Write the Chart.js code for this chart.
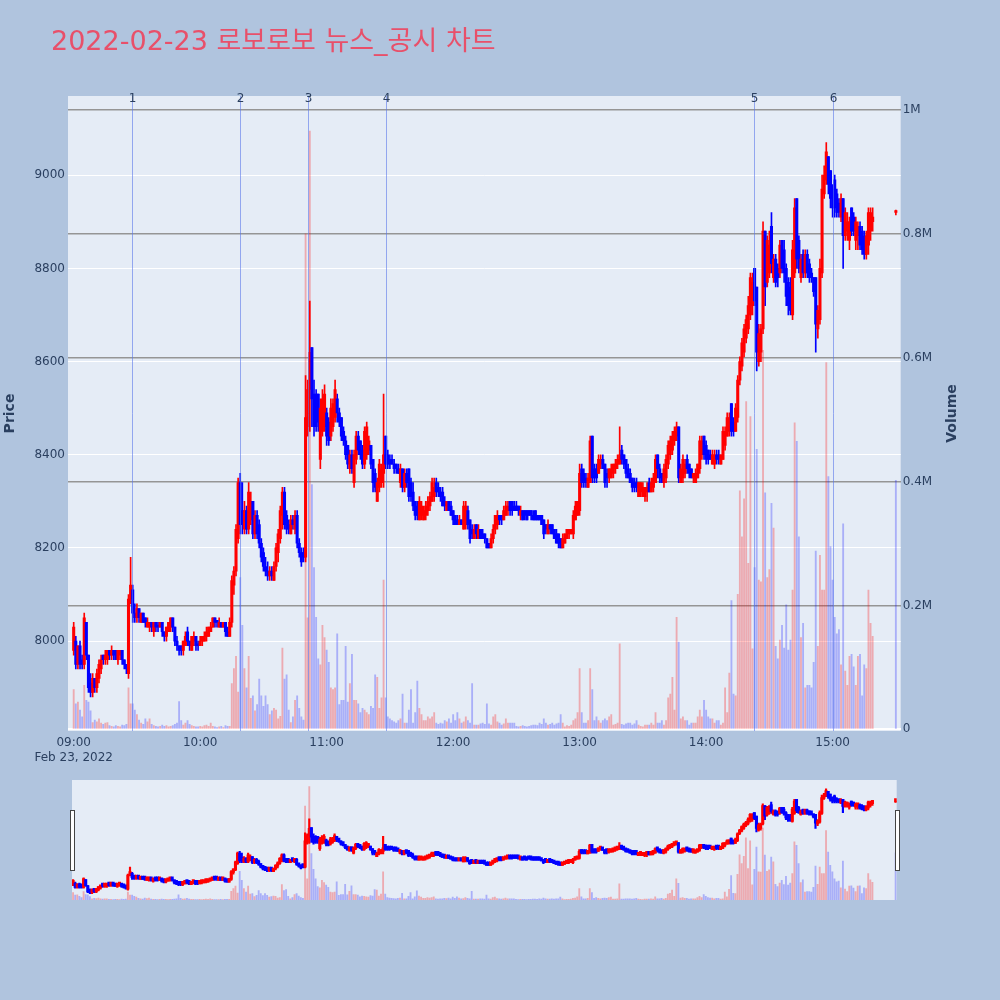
<!DOCTYPE html>
<html>
<head>
<meta charset="utf-8">
<script src="https://cdn.jsdelivr.net/npm/chart.js@4.4.1/dist/chart.umd.min.js"></script>
<style>
  html, body { margin: 0; padding: 0; background: #b0c4de; }
  #wrap { position: relative; width: 1000px; height: 1000px; }
  #main { position: absolute; left: 0; top: 0; }
  #slider { position: absolute; left: 0; top: 770px; }
</style>
</head>
<body>
<div id="wrap">
  <canvas id="main" width="1000" height="1000"></canvas>
  <canvas id="slider" width="1000" height="140"></canvas>
</div>
<script>
// 로보로보 1분봉 (09:00 ~ 15:19) + 15:30 동시호가
const chartTitle = "2022-02-23 로보로보 뉴스_공시 차트";
const closingAuctionMinute = 390;

const opens = [
  7980,8000,7950,7990,7960,7950,8040,7970,7910,7890,7920,7900,7920,7940,7970,7960,7960,7980,7970,7980,
  7980,7960,7970,7980,7960,7950,7930,8090,8110,8060,8050,8070,8040,8060,8050,8030,8030,8040,8020,8040,
  8030,8030,8040,8020,8010,8020,8030,8050,8030,8000,7990,7990,7980,7990,8020,8000,7980,8000,8010,7990,
  7990,8000,8000,8010,8010,8020,8030,8050,8040,8030,8040,8030,8040,8020,8010,8040,8120,8150,8220,8340,
  8280,8240,8280,8240,8260,8300,8230,8270,8250,8210,8190,8160,8150,8140,8150,8130,8160,8190,8220,8270,
  8320,8270,8250,8230,8260,8240,8270,8210,8190,8190,8180,8460,8540,8630,8530,8530,8530,8390,8450,8460,
  8490,8470,8440,8460,8480,8520,8490,8480,8450,8430,8420,8370,8400,8340,8390,8440,8430,8410,8380,8400,
  8410,8420,8390,8360,8300,8330,8340,8360,8440,8400,8390,8390,8380,8380,8370,8340,8370,8330,8360,8370,
  8340,8320,8300,8290,8260,8270,8260,8270,8280,8290,8300,8310,8340,8330,8320,8320,8300,8280,8300,8290,
  8280,8270,8260,8250,8260,8240,8250,8280,8260,8240,8220,8250,8220,8240,8230,8230,8220,8210,8200,8220,
  8240,8250,8270,8270,8260,8270,8280,8300,8300,8290,8290,8290,8270,8280,8280,8280,8280,8280,8270,8280,
  8270,8270,8270,8260,8250,8230,8250,8250,8240,8230,8230,8220,8200,8210,8220,8230,8230,8230,8260,8270,
  8280,8370,8360,8350,8330,8340,8440,8370,8370,8360,8380,8390,8380,8360,8350,8350,8360,8370,8380,8380,
  8410,8400,8390,8370,8360,8350,8340,8340,8310,8320,8310,8310,8320,8340,8320,8330,8340,8400,8370,8360,
  8340,8350,8380,8400,8410,8430,8440,8460,8340,8350,8360,8390,8380,8370,8350,8340,8350,8370,8400,8440,
  8420,8410,8400,8380,8380,8400,8400,8380,8390,8420,8440,8450,8510,8470,8450,8480,8560,8590,8620,8650,
  8670,8700,8720,8800,8760,8600,8620,8670,8880,8770,8790,8890,8780,8820,8800,8790,8860,8840,8800,8770,
  8760,8700,8790,8950,8860,8780,8830,8790,8830,8810,8790,8780,8780,8670,8690,8790,8960,8990,9040,9010,
  8970,8990,8960,8940,8910,8950,8870,8880,8860,8930,8910,8860,8870,8890,8880,8870,8830,8850,8880,8900,
  8920
];
const highs = [
  8040,8010,7990,8000,7970,8060,8040,7970,7930,7930,7920,7940,7960,7970,7970,7980,7980,7980,7990,7980,
  7980,7980,7980,7980,7960,7950,8100,8180,8120,8080,8080,8070,8060,8060,8050,8050,8040,8040,8040,8040,
  8040,8040,8040,8020,8030,8040,8050,8050,8030,8010,7990,7990,8000,8020,8030,8000,8010,8020,8010,8000,
  8010,8010,8020,8030,8030,8040,8050,8050,8040,8050,8040,8040,8040,8030,8050,8140,8160,8250,8350,8360,
  8340,8300,8290,8340,8320,8300,8280,8280,8260,8220,8200,8180,8170,8160,8160,8170,8210,8240,8290,8330,
  8330,8280,8260,8270,8270,8280,8280,8220,8200,8200,8570,8560,8730,8630,8560,8540,8530,8520,8540,8550,
  8500,8480,8520,8520,8560,8530,8500,8480,8460,8440,8420,8410,8410,8410,8450,8450,8430,8420,8460,8470,
  8440,8420,8390,8370,8350,8390,8380,8530,8440,8410,8400,8400,8390,8380,8380,8380,8370,8370,8370,8370,
  8350,8340,8300,8300,8310,8300,8290,8300,8310,8320,8350,8350,8350,8340,8330,8330,8310,8300,8300,8300,
  8280,8270,8270,8270,8260,8300,8300,8290,8260,8250,8250,8250,8250,8240,8240,8230,8220,8210,8230,8250,
  8270,8280,8270,8270,8290,8300,8300,8300,8300,8300,8300,8290,8290,8280,8280,8280,8280,8280,8280,8280,
  8270,8270,8270,8260,8250,8260,8250,8250,8240,8240,8230,8220,8230,8230,8240,8240,8240,8280,8300,8300,
  8380,8380,8370,8360,8360,8440,8440,8380,8380,8400,8400,8400,8380,8370,8370,8380,8380,8390,8400,8460,
  8420,8400,8390,8380,8370,8350,8350,8350,8340,8340,8340,8330,8340,8350,8350,8360,8400,8400,8380,8360,
  8380,8400,8430,8440,8450,8460,8470,8460,8380,8400,8390,8400,8380,8370,8360,8370,8380,8440,8440,8440,
  8430,8410,8410,8410,8410,8410,8410,8400,8460,8460,8490,8490,8510,8480,8510,8570,8610,8650,8680,8700,
  8740,8790,8790,8800,8760,8680,8680,8900,8880,8870,8880,8920,8830,8830,8810,8860,8860,8860,8810,8780,
  8780,8860,8950,8950,8870,8830,8840,8840,8840,8820,8800,8780,8780,8720,8820,9000,9020,9070,9040,9010,
  8980,9000,8970,8950,8960,8950,8930,8920,8910,8930,8920,8910,8900,8900,8890,8880,8880,8930,8930,8930,
  8925
];
const lows = [
  7970,7940,7940,7940,7940,7940,7960,7890,7880,7880,7890,7890,7910,7930,7950,7950,7950,7960,7960,7960,
  7960,7950,7960,7950,7940,7930,7920,8080,8040,8040,8040,8040,8040,8040,8030,8030,8020,8020,8010,8020,
  8020,8030,8010,8000,8000,8020,8020,8020,7990,7980,7970,7970,7970,7990,7990,7980,7980,7990,7980,7980,
  7990,7990,8000,8000,8010,8020,8030,8030,8030,8030,8030,8030,8010,8010,8010,8030,8100,8140,8210,8230,
  8230,8230,8230,8230,8250,8220,8220,8220,8200,8170,8150,8140,8130,8130,8130,8130,8150,8170,8210,8240,
  8240,8230,8230,8230,8240,8230,8200,8180,8160,8170,8170,8440,8450,8460,8440,8450,8450,8370,8440,8450,
  8420,8420,8430,8450,8470,8470,8460,8430,8420,8390,8370,8360,8360,8330,8380,8400,8390,8370,8370,8390,
  8400,8370,8320,8320,8300,8320,8330,8330,8370,8370,8370,8380,8360,8360,8360,8330,8320,8320,8330,8300,
  8300,8280,8260,8260,8260,8260,8260,8260,8270,8280,8300,8300,8310,8310,8300,8290,8280,8280,8280,8270,
  8250,8250,8250,8250,8250,8240,8240,8240,8210,8220,8220,8220,8220,8220,8220,8210,8200,8200,8200,8210,
  8230,8240,8250,8250,8260,8270,8270,8270,8270,8280,8280,8270,8260,8260,8260,8260,8270,8260,8260,8260,
  8260,8260,8250,8220,8230,8230,8230,8230,8220,8210,8200,8200,8200,8210,8220,8220,8230,8220,8260,8270,
  8270,8330,8330,8330,8330,8340,8340,8340,8340,8360,8370,8370,8330,8330,8340,8350,8350,8360,8370,8380,
  8380,8370,8350,8350,8340,8320,8320,8320,8310,8310,8310,8300,8300,8320,8320,8320,8340,8350,8340,8340,
  8330,8340,8370,8390,8400,8420,8430,8340,8340,8340,8350,8360,8350,8350,8340,8340,8350,8360,8390,8390,
  8380,8380,8390,8380,8370,8380,8380,8380,8390,8410,8440,8440,8440,8440,8450,8470,8550,8580,8610,8640,
  8660,8690,8700,8720,8580,8590,8600,8660,8720,8760,8780,8790,8770,8760,8760,8780,8790,8770,8720,8700,
  8700,8690,8780,8800,8790,8770,8780,8780,8780,8770,8770,8740,8620,8650,8680,8780,8950,8980,8960,8930,
  8910,8910,8910,8910,8900,8800,8860,8860,8840,8870,8870,8840,8840,8840,8830,8820,8820,8830,8860,8880,
  8915
];
const closes = [
  8030,7950,7990,7950,7950,8050,7970,7900,7890,7920,7900,7930,7950,7960,7960,7970,7980,7970,7980,7970,
  7960,7980,7980,7960,7950,7940,8090,8120,8060,8050,8070,8050,8060,8040,8040,8040,8040,8030,8040,8030,
  8030,8040,8020,8010,8030,8040,8050,8030,8000,7990,7980,7980,8000,8010,8000,7990,8010,8010,7990,7990,
  8000,8010,8010,8020,8030,8030,8050,8040,8040,8040,8030,8040,8020,8010,8040,8130,8150,8240,8340,8250,
  8250,8280,8240,8320,8300,8230,8270,8230,8210,8180,8160,8150,8140,8150,8140,8160,8200,8230,8280,8320,
  8250,8240,8240,8260,8250,8270,8210,8190,8170,8180,8480,8540,8620,8520,8460,8460,8470,8500,8520,8530,
  8440,8430,8500,8510,8540,8490,8470,8440,8430,8400,8380,8400,8370,8400,8440,8410,8400,8380,8450,8460,
  8430,8380,8340,8330,8340,8380,8370,8400,8380,8380,8380,8380,8370,8370,8360,8370,8330,8360,8340,8310,
  8310,8290,8270,8270,8300,8290,8280,8290,8300,8310,8340,8330,8320,8320,8310,8290,8290,8300,8280,8270,
  8260,8250,8250,8260,8250,8290,8290,8250,8220,8230,8240,8230,8240,8220,8220,8220,8200,8200,8220,8240,
  8270,8270,8260,8260,8280,8290,8290,8280,8280,8280,8280,8280,8280,8260,8270,8260,8270,8270,8260,8260,
  8260,8260,8250,8230,8240,8250,8240,8230,8220,8210,8210,8200,8220,8230,8240,8240,8240,8270,8290,8300,
  8360,8340,8340,8340,8350,8430,8350,8350,8350,8390,8390,8370,8340,8350,8370,8370,8380,8380,8390,8400,
  8390,8380,8360,8350,8340,8330,8330,8330,8340,8340,8330,8330,8330,8320,8340,8350,8390,8370,8350,8340,
  8370,8390,8420,8430,8440,8450,8460,8350,8370,8390,8380,8370,8360,8350,8360,8360,8380,8430,8430,8400,
  8390,8390,8390,8400,8400,8390,8390,8400,8450,8450,8480,8480,8450,8450,8500,8560,8600,8640,8670,8690,
  8720,8780,8770,8730,8620,8660,8670,8880,8760,8860,8850,8810,8820,8770,8780,8850,8800,8790,8740,8720,
  8710,8840,8930,8820,8800,8820,8790,8830,8790,8780,8780,8750,8680,8710,8800,8970,9000,9050,8980,8950,
  8930,8930,8920,8920,8950,8870,8920,8900,8900,8880,8880,8900,8890,8850,8840,8830,8870,8920,8920,8910,
  8920
];
const volumes = [
  64000,41000,44000,31000,20000,71000,47000,44000,30000,11000,15000,12000,17000,10000,8000,10000,11000,6000,5000,4000,
  6000,5000,4000,7000,6000,8000,67000,41000,41000,31000,24000,15000,10000,8000,17000,12000,17000,8000,6000,5000,
  4000,5000,7000,5000,6000,4000,5000,6000,8000,10000,45000,14000,7000,10000,14000,8000,6000,5000,4000,4000,
  5000,4000,6000,7000,5000,10000,5000,4000,3000,4000,5000,3000,6000,5000,5000,74000,98000,118000,60000,245000,
  168000,98000,67000,118000,50000,54000,30000,40000,81000,54000,37000,54000,40000,24000,30000,34000,31000,17000,21000,131000,
  81000,88000,31000,11000,20000,47000,54000,34000,20000,15000,800000,180000,966000,395000,261000,181000,114000,104000,168000,148000,
  128000,108000,67000,64000,67000,154000,40000,47000,47000,134000,44000,74000,121000,47000,47000,41000,27000,34000,31000,27000,
  24000,37000,34000,88000,84000,34000,51000,241000,51000,20000,17000,14000,12000,10000,14000,17000,57000,10000,10000,31000,
  64000,10000,27000,78000,34000,24000,14000,14000,20000,17000,20000,27000,10000,8000,10000,9000,14000,12000,17000,10000,
  24000,14000,27000,17000,10000,12000,20000,14000,10000,74000,7000,7000,7000,9000,10000,8000,41000,9000,7000,20000,
  24000,12000,10000,7000,9000,17000,10000,10000,10000,10000,5000,4000,5000,6000,5000,4000,5000,6000,7000,7000,
  6000,10000,8000,17000,10000,7000,8000,10000,7000,9000,10000,24000,10000,4000,6000,5000,7000,14000,17000,27000,
  98000,27000,10000,10000,14000,98000,64000,14000,20000,14000,10000,14000,17000,14000,20000,24000,7000,8000,10000,138000,
  8000,7000,9000,10000,10000,7000,9000,14000,7000,5000,4000,7000,7000,7000,10000,7000,27000,10000,10000,14000,
  7000,14000,51000,57000,84000,31000,181000,141000,17000,20000,14000,14000,7000,10000,10000,10000,20000,31000,20000,47000,
  31000,20000,17000,17000,10000,14000,14000,7000,10000,67000,27000,91000,208000,57000,54000,218000,385000,311000,372000,529000,
  268000,505000,130000,261000,452000,241000,238000,612000,382000,245000,258000,365000,325000,134000,114000,144000,168000,131000,201000,128000,
  144000,225000,495000,465000,311000,148000,171000,67000,71000,71000,67000,108000,288000,134000,281000,225000,225000,592000,408000,295000,
  241000,181000,154000,161000,104000,332000,94000,71000,118000,121000,101000,71000,118000,121000,54000,104000,98000,225000,171000,150000,
  402000
];

// 뉴스/공시 시점 (09:00 기준 분)
const newsMinutes = [27.5, 78.7, 111, 148, 322.6, 360];
const newsLabels = ["1", "2", "3", "4", "5", "6"];

// 축 눈금
const hourTicks = [0, 60, 120, 180, 240, 300, 360];
const hourLabels = ["09:00", "10:00", "11:00", "12:00", "13:00", "14:00", "15:00"];
const priceTicks = [8000, 8200, 8400, 8600, 8800, 9000];
const volumeTicks = [0, 200000, 400000, 600000, 800000, 1000000];

const FONT = "'DejaVu Sans', 'Noto Sans CJK KR', sans-serif";
const TXT = "#2a3f5f";
const RED = "#ff0000";
const BLUE = "#0000ff";
Chart.defaults.font.family = FONT;
Chart.defaults.color = TXT;

// 분 단위 x 값: 정규장 연속 분봉 + 마지막 동시호가
const minutes = opens.map((_, i) => (i < opens.length - 1 ? i : closingAuctionMinute));

// 양봉/음봉 판정 (시가=종가면 직전 종가와 비교)
const candleUp = closes.map((c, i) => c > opens[i] || (c === opens[i] && i > 0 && c > closes[i - 1]));
const volumeUp = closes.map((c, i) => c > opens[i]);

function buildDatasets(minBody, wickWidth) {
  return [
    {
      label: "body",
      data: minutes.map((x, i) => ({ x, y: [opens[i], closes[i]] })),
      yAxisID: "y",
      backgroundColor: candleUp.map((u) => (u ? RED : BLUE)),
      barThickness: 2.4,
      minBarLength: minBody,
      grouped: false,
      order: 1,
    },
    {
      label: "wick",
      data: minutes.map((x, i) => ({ x, y: [lows[i], highs[i]] })),
      yAxisID: "y",
      backgroundColor: candleUp.map((u) => (u ? RED : BLUE)),
      barThickness: wickWidth,
      grouped: false,
      order: 2,
    },
    {
      label: "volume",
      data: minutes.map((x, i) => ({ x, y: volumes[i] })),
      yAxisID: "yv",
      backgroundColor: volumeUp.map((u) => (u ? "rgba(255,0,0,0.28)" : "rgba(0,0,255,0.26)")),
      barThickness: 1.2,
      grouped: false,
      order: 3,
    },
  ];
}

// 플롯 배경
const plotBg = {
  id: "plotBg",
  beforeDraw(chart) {
    const { ctx, chartArea: a } = chart;
    ctx.save();
    ctx.fillStyle = "#e5ecf6";
    ctx.fillRect(a.left, a.top, a.right - a.left, a.bottom - a.top);
    ctx.restore();
  },
};

// 뉴스 세로선, 제목, 축 제목
const overlay = {
  id: "overlay",
  afterDatasetsDraw(chart) {
    const { ctx, chartArea: a, scales } = chart;
    ctx.save();
    ctx.lineWidth = 1;
    ctx.strokeStyle = "rgba(90,120,235,0.6)";
    ctx.font = "12px " + FONT;
    ctx.textAlign = "center";
    ctx.textBaseline = "alphabetic";
    newsMinutes.forEach((m, i) => {
      const px = Math.round(scales.x.getPixelForValue(m)) + 0.5;
      ctx.beginPath();
      ctx.moveTo(px, a.top);
      ctx.lineTo(px, a.bottom);
      ctx.stroke();
      ctx.fillStyle = TXT;
      ctx.fillText(newsLabels[i], px, a.top + 5.5);
    });
    ctx.restore();
  },
  afterDraw(chart) {
    const { ctx, chartArea: a } = chart;
    const midY = (a.top + a.bottom) / 2;
    ctx.save();
    ctx.fillStyle = "#e8506a";
    ctx.font = "27px " + FONT;
    ctx.textAlign = "left";
    ctx.textBaseline = "alphabetic";
    ctx.fillText(chartTitle, 51, 50);

    ctx.fillStyle = TXT;
    ctx.font = "bold 14px " + FONT;
    ctx.textAlign = "center";
    ctx.textBaseline = "middle";
    [["Price", 10], ["Volume", 952]].forEach(([t, x]) => {
      ctx.save();
      ctx.translate(x, midY);
      ctx.rotate(-Math.PI / 2);
      ctx.fillText(t, 0, 0);
      ctx.restore();
    });
    ctx.restore();
  },
};

const tickFont = { family: FONT, size: 12 };

new Chart(document.getElementById("main"), {
  type: "bar",
  data: { datasets: buildDatasets(2, 1) },
  options: {
    responsive: false,
    animation: false,
    layout: { padding: { top: 96, left: 0, right: 0, bottom: 0 } },
    plugins: { legend: { display: false }, tooltip: { enabled: false } },
    scales: {
      x: {
        type: "linear",
        min: -2.7,
        max: 392.3,
        offset: false,
        grid: { display: false },
        border: { display: false },
        afterBuildTicks: (s) => {
          s.ticks = hourTicks.map((v) => ({ value: v }));
        },
        afterFit: (s) => {
          s.height = 269;
        },
        ticks: {
          autoSkip: false,
          maxRotation: 0,
          padding: -3,
          color: TXT,
          font: tickFont,
          callback: (v) => {
            const k = hourTicks.indexOf(v);
            if (k === 0) return [hourLabels[0], "Feb 23, 2022"];
            return k >= 0 ? hourLabels[k] : "";
          },
        },
      },
      y: {
        position: "left",
        min: 7807,
        max: 9170,
        grid: { color: "#ffffff", lineWidth: 1, drawTicks: false },
        border: { display: false },
        afterBuildTicks: (s) => {
          s.ticks = priceTicks.map((v) => ({ value: v }));
        },
        afterFit: (s) => {
          s.width = 68;
        },
        ticks: { autoSkip: false, padding: 3, color: TXT, font: tickFont, callback: (v) => String(v) },
      },
      yv: {
        position: "right",
        min: -2700,
        max: 1022600,
        grid: {
          color: (c) => (c.tick && c.tick.value === 0 ? "#ffffff" : "#959595"),
          lineWidth: (c) => (c.tick && c.tick.value === 0 ? 2 : 1.5),
          drawTicks: false,
        },
        border: { display: false },
        afterBuildTicks: (s) => {
          s.ticks = volumeTicks.map((v) => ({ value: v }));
        },
        afterFit: (s) => {
          s.width = 99.3;
        },
        ticks: {
          autoSkip: false,
          padding: 2,
          color: TXT,
          font: tickFont,
          callback: (v) => (v === 0 ? "0" : v / 1000000 + "M"),
        },
      },
    },
  },
  plugins: [plotBg, overlay],
});

// 레인지 슬라이더 핸들
const sliderHandles = {
  id: "sliderHandles",
  afterDraw(chart) {
    const { ctx, chartArea: a } = chart;
    const h = 60;
    const top = Math.round((a.top + a.bottom) / 2 - h / 2) + 0.5;
    ctx.save();
    ctx.fillStyle = "#ffffff";
    ctx.strokeStyle = "#444444";
    ctx.lineWidth = 1;
    [a.left, a.right].forEach((edge) => {
      const x = Math.round(edge - 2) + 0.5;
      ctx.fillRect(x, top, 4, h);
      ctx.strokeRect(x, top, 4, h);
    });
    ctx.restore();
  },
};

new Chart(document.getElementById("slider"), {
  type: "bar",
  data: { datasets: buildDatasets(3.5, 1.5) },
  options: {
    responsive: false,
    animation: false,
    layout: { padding: { top: 10, bottom: 10, left: 72, right: 103.3 } },
    plugins: { legend: { display: false }, tooltip: { enabled: false } },
    scales: {
      x: { type: "linear", display: false, min: -0.5, max: 390.5, offset: false },
      y: { display: false, min: 7807, max: 9170 },
      yv: { display: false, min: 0, max: 1022600 },
    },
  },
  plugins: [plotBg, sliderHandles],
});
</script>
</body>
</html>
